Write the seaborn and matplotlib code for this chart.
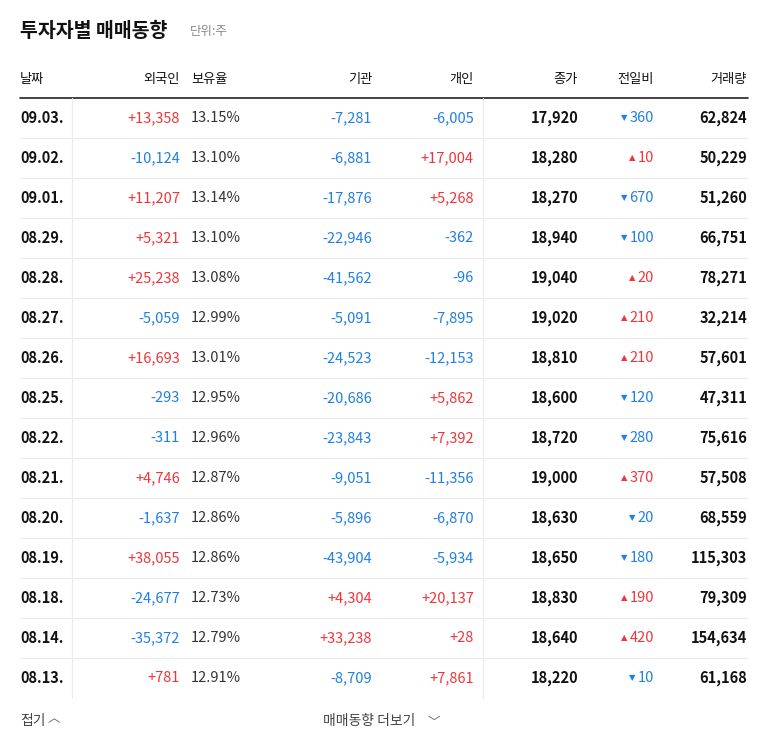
import matplotlib
matplotlib.use("Agg")
import matplotlib.pyplot as plt
import seaborn as sns

sns.set_theme(style="white")
plt.rcParams['font.family'] = ['Noto Sans CJK KR', 'DejaVu Sans']

dates = ["09.03.","09.02.","09.01.","08.29.","08.28.","08.27.","08.26.","08.25.","08.22.","08.21.","08.20.","08.19.","08.18.","08.14.","08.13."]
foreign = [13358,-10124,11207,5321,25238,-5059,16693,-293,-311,4746,-1637,38055,-24677,-35372,781]
ratio = [13.15,13.10,13.14,13.10,13.08,12.99,13.01,12.95,12.96,12.87,12.86,12.86,12.73,12.79,12.91]
inst = [-7281,-6881,-17876,-22946,-41562,-5091,-24523,-20686,-23843,-9051,-5896,-43904,4304,33238,-8709]
indiv = [-6005,17004,5268,-362,-96,-7895,-12153,5862,7392,-11356,-6870,-5934,20137,28,7861]
close = [17920,18280,18270,18940,19040,19020,18810,18600,18720,19000,18630,18650,18830,18640,18220]
change = [-360,10,-670,-100,20,210,210,-120,-280,370,-20,-180,190,420,-10]
volume = [62824,50229,51260,66751,78271,32214,57601,47311,75616,57508,68559,115303,79309,154634,61168]
headers = ["날짜","외국인","보유율","기관","개인","종가","전일비","거래량"]

RED, BLUE, DARK, GRAY = "#f0353a", "#1e7fe6", "#111111", "#888888"
W, H = 768, 749
fig = plt.figure(figsize=(W/100, H/100), dpi=100)
ax = fig.add_axes([0, 0, 1, 1])
ax.set_xlim(0, W); ax.set_ylim(H, 0); ax.axis("off")

def col(v): return RED if v > 0 else BLUE
def sgn(v): return f"{v:+,}" if v > 0 else f"{v:,}"

ax.text(20, 31, "투자자별 매매동향", fontsize=14, fontweight="bold", color=DARK, va="center")
ax.text(190, 32, "단위:주", fontsize=9, color=GRAY, va="center")

hx = [(20,"left"),(180,"right"),(191,"left"),(372,"right"),(474,"right"),(578,"right"),(654,"right"),(747,"right")]
for (x, ha), h in zip(hx, headers):
    ax.text(x, 80, h, fontsize=9.5, color=DARK, ha=ha, va="center", fontweight=500)
ax.plot([20, 748], [98, 98], color="#222222", lw=1.2)

fs = 10.5
for i in range(len(dates)):
    y = 118 + 40*i
    ax.text(20, y, dates[i], fontsize=fs, fontweight="bold", color=DARK, va="center")
    ax.text(180, y, sgn(foreign[i]), fontsize=fs, fontweight=500, color=col(foreign[i]), ha="right", va="center")
    ax.text(191, y, f"{ratio[i]:.2f}%", fontsize=fs, color="#333333", ha="left", va="center")
    ax.text(372, y, sgn(inst[i]), fontsize=fs, fontweight=500, color=col(inst[i]), ha="right", va="center")
    ax.text(474, y, sgn(indiv[i]), fontsize=fs, fontweight=500, color=col(indiv[i]), ha="right", va="center")
    ax.text(578, y, f"{close[i]:,}", fontsize=fs, fontweight="bold", color=DARK, ha="right", va="center")
    t = ax.text(654, y, f"{abs(change[i]):,}", fontsize=fs, color=col(change[i]), ha="right", va="center")
    ax.annotate("▲" if change[i] > 0 else "▼", xy=(0, 0.5), xycoords=t, xytext=(-1.5, 0),
                textcoords="offset points", fontsize=6, color=col(change[i]), ha="right", va="center",
                family="DejaVu Sans")
    ax.text(747, y, f"{volume[i]:,}", fontsize=fs, fontweight="bold", color=DARK, ha="right", va="center")
    if i < len(dates) - 1:
        ax.plot([20, 748], [y+20, y+20], color="#ebebeb", lw=0.8)
    ax.plot([72, 72], [y-20, y+20], color="#ebebeb", lw=0.8)
    ax.plot([483, 483], [y-20, y+20], color="#ebebeb", lw=0.8)

ax.text(20, 721, "접기", fontsize=10, color="#444444", va="center")
ax.text(48, 719, "︿", fontsize=9, color="#666666", va="center")
ax.text(323, 721, "매매동향 더보기", fontsize=10, color="#444444", va="center")
ax.text(428, 722, "﹀", fontsize=9, color="#666666", va="center")

fig.savefig("out.png", dpi=100)
